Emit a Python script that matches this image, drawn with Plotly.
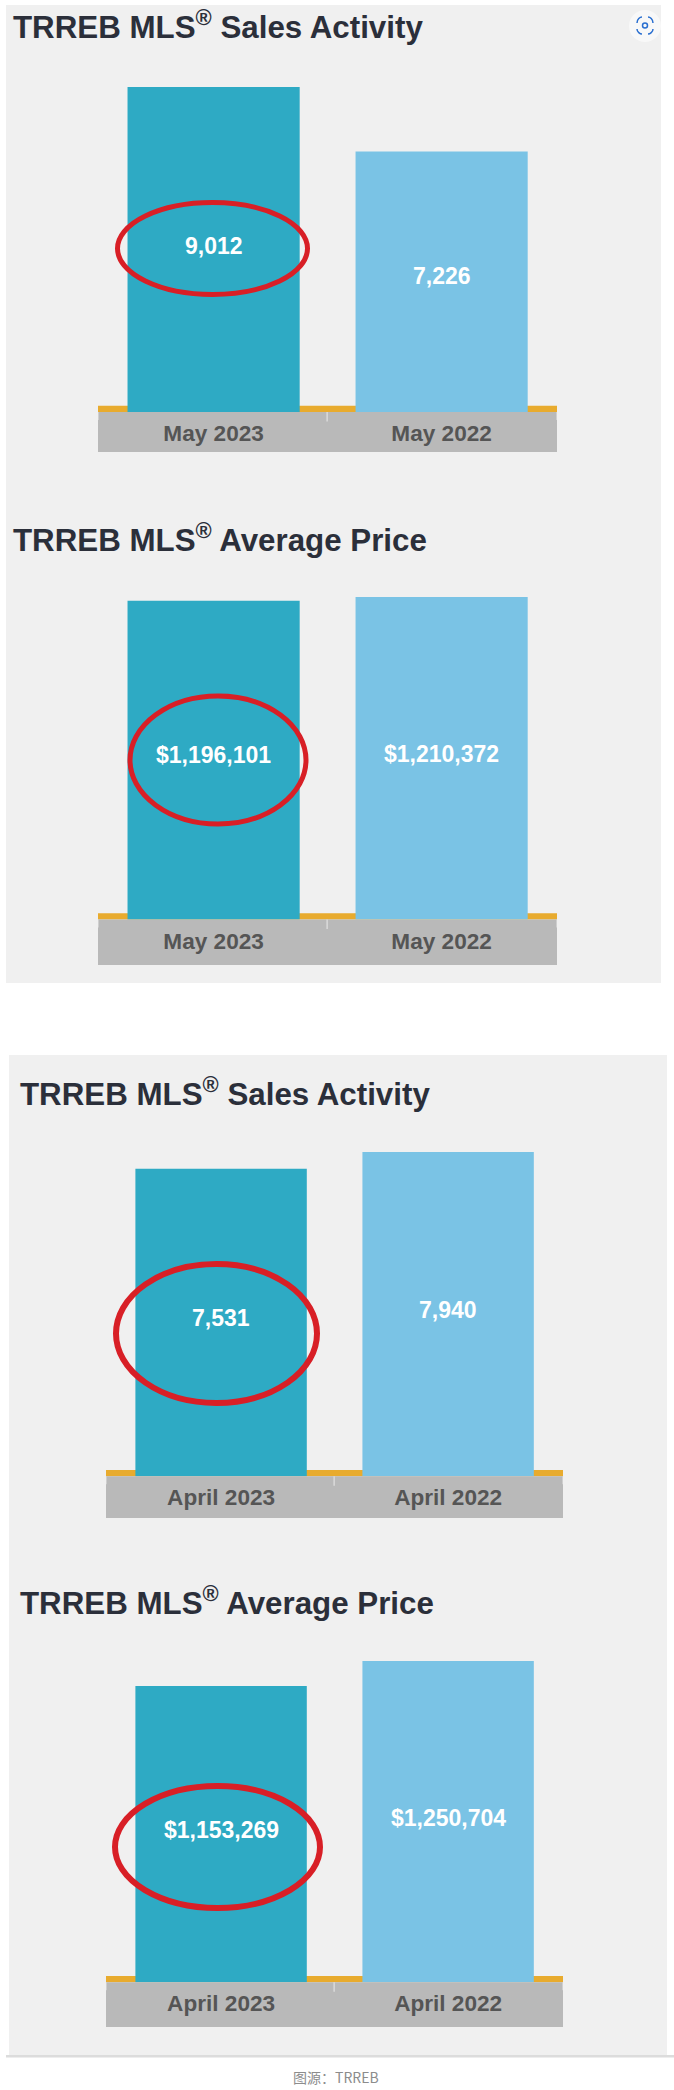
import plotly.graph_objects as go
from plotly.subplots import make_subplots

W, H = 674, 2090

# values
may_labels = ["May 2023", "May 2022"]
april_labels = ["April 2023", "April 2022"]
may_sales = [9012, 7226]
may_price = [1196101, 1210372]
april_sales = [7531, 7940]
april_price = [1153269, 1250704]
title_sales = "TRREB MLS<sup>®</sup> Sales Activity"
title_price = "TRREB MLS<sup>®</sup> Average Price"
source_text = "图源\uff1aTRREB"

TEAL = "#2eaac4"
SKY = "#7ac3e5"
GREY = "#b9b9b9"
GOLD = "#e8ab2e"
PANEL = "#f0f0f0"
RED = "#d81f26"
FONT = "Liberation Sans, Arial, sans-serif"


def px(x):
    return x / W


def py(y):
    return 1 - y / H


def rect(x0, y0, x1, y1, color, layer="below"):
    return dict(type="rect", xref="paper", yref="paper", x0=px(x0), x1=px(x1), y0=py(y0), y1=py(y1),
                fillcolor=color, line_width=0, layer=layer)


# one dict per chart: pixel layout is kept here, the values stay in the lists above
charts = [
    dict(labels=may_labels, values=may_sales, prefix="", title=title_sales, title_x=11, title_y=25.5,
         left=98, right=557, top=87, base=412, band=452, shift=[4, 6], ring=(117.5, 202.5, 307.5, 294.5), ring_w=5),
    dict(labels=may_labels, values=may_price, prefix="$", title=title_price, title_x=11, title_y=537.5,
         left=98, right=557, top=597, base=919.5, band=965, shift=[5, 4], ring=(130, 696, 306, 824), ring_w=5),
    dict(labels=april_labels, values=april_sales, prefix="", title=title_sales, title_x=18, title_y=1091.5,
         left=106, right=563, top=1152, base=1476.3, band=1518, shift=[5, 4], ring=(116, 1264, 317, 1403), ring_w=6),
    dict(labels=april_labels, values=april_price, prefix="$", title=title_price, title_x=18, title_y=1600.5,
         left=106, right=563, top=1661, base=1982.3, band=2027, shift=[4, 4], ring=(115, 1786, 320, 1908), ring_w=6),
]

fig = make_subplots(rows=4, cols=1)
shapes = [
    rect(6, 5, 661, 983, PANEL),
    rect(9, 1055, 667, 2055, PANEL),
    rect(6, 2055, 674, 2057.5, "#dcdcdc"),
]
annotations = []

for i, c in enumerate(charts):
    r = i + 1
    fig.add_trace(go.Bar(x=c["labels"], y=c["values"], marker_color=[TEAL, SKY], marker_line_width=0,
                         width=0.755, showlegend=False, hoverinfo="x+y"), row=r, col=1)
    fig.update_xaxes(domain=[px(c["left"]), px(c["right"])], range=[-0.507, 1.506], showgrid=False, zeroline=False,
                     showline=False, ticks="outside", ticklen=1, tickcolor="rgba(0,0,0,0)",
                     tickfont=dict(family=FONT, size=22.6, color="#555555", weight="bold"), row=r, col=1)
    fig.update_yaxes(domain=[py(c["base"]), py(c["top"])], range=[0, max(c["values"])], visible=False, row=r, col=1)

    # gold strip and grey label band under the bars
    shapes.append(rect(c["left"], c["base"] - 6.3, c["right"], c["base"], GOLD))
    shapes.append(rect(c["left"], c["base"], c["right"], c["band"], GREY))
    mid = (c["left"] + c["right"]) / 2 - 1
    shapes.append(rect(mid, c["base"], mid + 1.2, c["base"] + 9.5, "#e2e2e2"))
    for x in [c["left"], c["right"] - 1]:
        shapes.append(rect(x, c["base"], x + 1, c["base"] + 8, "#cfcfcf"))

    # red hand drawn ring, above the bars
    x0, y0, x1, y1 = c["ring"]
    shapes.append(dict(type="circle", xref="paper", yref="paper", x0=px(x0), x1=px(x1), y0=py(y0), y1=py(y1),
                       line=dict(color=RED, width=c["ring_w"]), layer="above"))

    annotations.append(dict(xref="paper", yref="paper", x=px(c["title_x"]), y=py(c["title_y"]), text=c["title"],
                            showarrow=False, xanchor="left", yanchor="middle",
                            font=dict(family=FONT, size=31.3, color="#2b2f3a", weight="bold")))
    axis = "" if r == 1 else str(r)
    for j, v in enumerate(c["values"]):
        annotations.append(dict(xref="x" + axis, yref="y" + axis, x=c["labels"][j], y=v / 2, yshift=c["shift"][j],
                                text=f"{c['prefix']}{v:,}", showarrow=False,
                                font=dict(family=FONT, size=23, color="white", weight="bold")))

annotations.append(dict(xref="paper", yref="paper", x=px(335.5), y=py(2077), text=source_text, showarrow=False,
                        xanchor="center", yanchor="middle",
                        font=dict(family="Noto Sans CJK SC", size=14, color="#8c8c8c")))

# image search button in the top right corner
shapes.append(dict(type="circle", xref="paper", yref="paper", x0=px(629), x1=px(661), y0=py(10), y1=py(42),
                   fillcolor="#f8f8f8", line_width=0, layer="above"))
BLUE = "#2a6fd0"
icon_paths = [
    [(637, 23), (637, 19), (640, 17), (642, 17)],
    [(648, 17), (650, 17), (653, 19), (653, 23)],
    [(653, 29), (653, 32), (650, 34), (648, 34)],
    [(642, 34), (640, 34), (637, 32), (637, 29)],
]
for pts in icon_paths:
    p = [f"{px(a):.5f},{py(b):.5f}" for a, b in pts]
    shapes.append(dict(type="path", xref="paper", yref="paper", path=f"M{p[0]} C{p[1]} {p[2]} {p[3]}",
                       line=dict(color=BLUE, width=1.5), layer="above"))
shapes.append(dict(type="circle", xref="paper", yref="paper", x0=px(642.5), x1=px(647.5), y0=py(23), y1=py(28),
                   line=dict(color=BLUE, width=1.5), layer="above"))

fig.update_layout(width=W, height=H, autosize=False, margin=dict(l=0, r=0, t=0, b=0),
                  paper_bgcolor="white", plot_bgcolor="rgba(0,0,0,0)", showlegend=False,
                  shapes=shapes, annotations=annotations)

fig.write_html("out.html", config={"displayModeBar": False}, post_script="document.body.style.margin='0';")
